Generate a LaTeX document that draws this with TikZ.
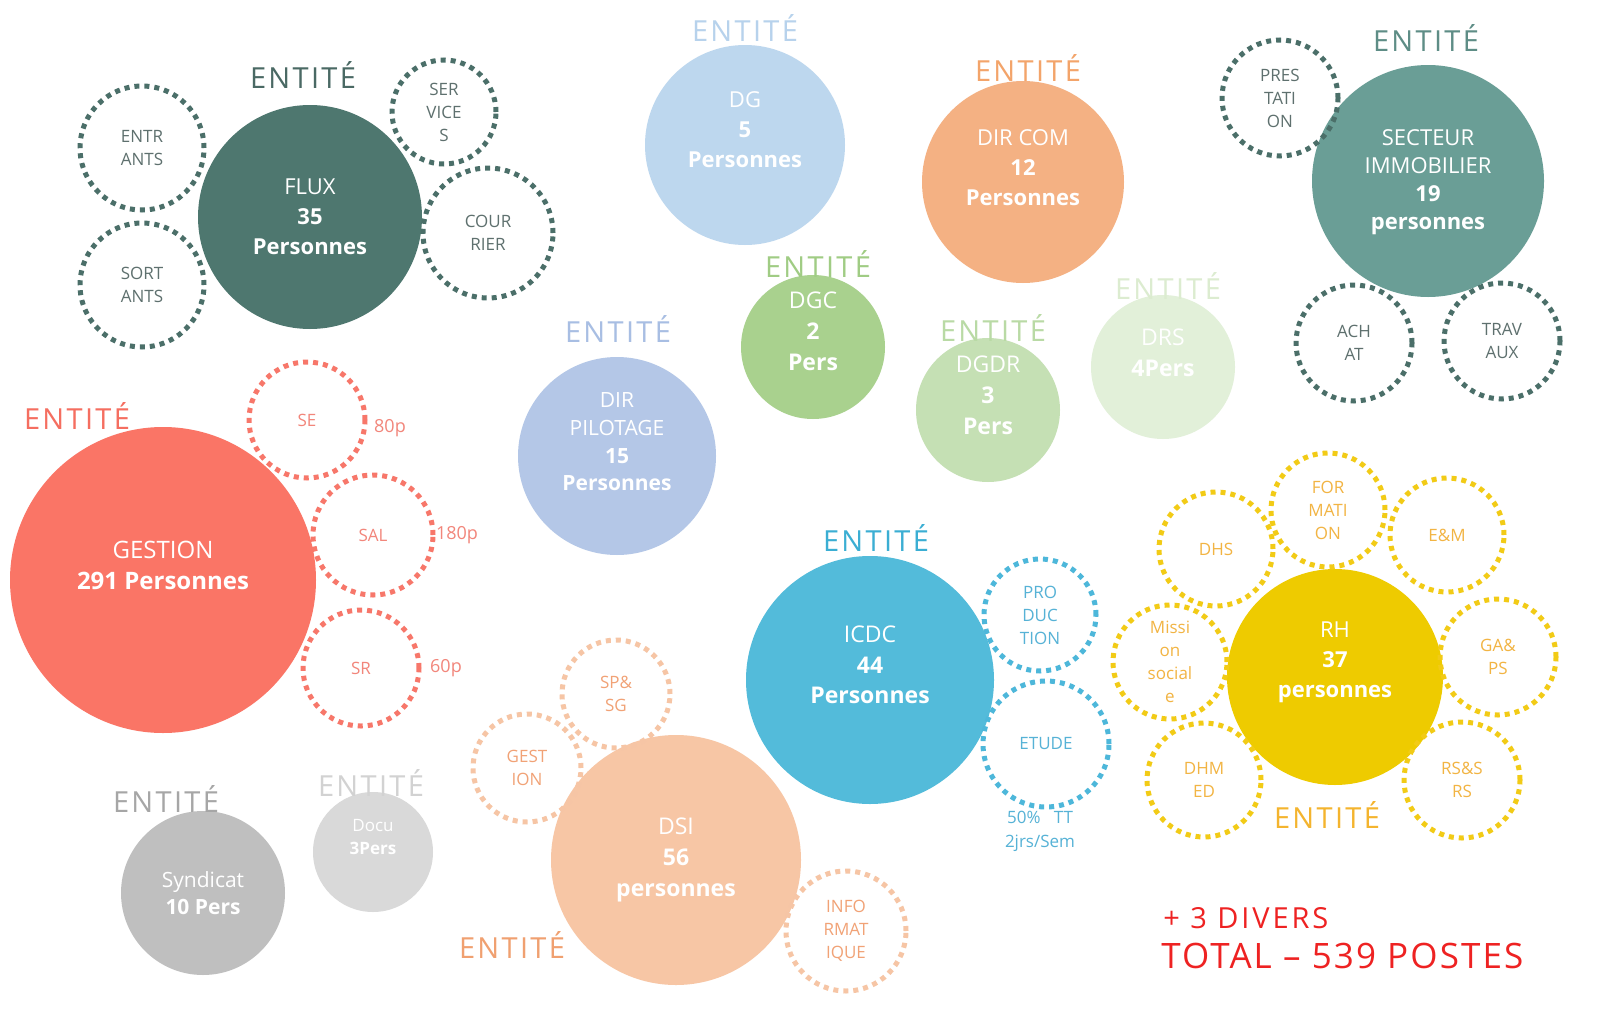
\documentclass[tikz,border=0pt]{standalone}
\usepackage{fontspec}
\setmainfont{Open Sans}
\usepackage{tikz}
\usetikzlibrary{positioning}

\definecolor{fluxc}{HTML}{4E776F}
\definecolor{fluxd}{HTML}{4B6F69}
\definecolor{fluxt}{HTML}{5E706E}
\definecolor{fluxe}{HTML}{4A6964}
\definecolor{sectc}{HTML}{6A9E96}
\definecolor{secte}{HTML}{5E8D86}
\definecolor{dgc}{HTML}{BDD7EE}
\definecolor{dge}{HTML}{B7D2EC}
\definecolor{comc}{HTML}{F4B183}
\definecolor{come}{HTML}{F3A46A}
\definecolor{dgcc}{HTML}{A9D18E}
\definecolor{dgce}{HTML}{A0CC84}
\definecolor{dgdrc}{HTML}{C5E0B4}
\definecolor{dgdre}{HTML}{B9DAA5}
\definecolor{drsc}{HTML}{E2F0D9}
\definecolor{drse}{HTML}{DCECD0}
\definecolor{pilc}{HTML}{B4C7E7}
\definecolor{pile}{HTML}{A8BEE3}
\definecolor{gesc}{HTML}{FA7566}
\definecolor{gesd}{HTML}{F7776A}
\definecolor{gest}{HTML}{F2867B}
\definecolor{gese}{HTML}{F56E60}
\definecolor{icdc}{HTML}{53BBDA}
\definecolor{icdd}{HTML}{4DB7DA}
\definecolor{icdt}{HTML}{56B2D6}
\definecolor{icde}{HTML}{3BAED3}
\definecolor{dsic}{HTML}{F7C6A5}
\definecolor{dsid}{HTML}{F6C5A5}
\definecolor{dsit}{HTML}{F1A276}
\definecolor{dsie}{HTML}{F0A070}
\definecolor{syc}{HTML}{BFBFBF}
\definecolor{sye}{HTML}{A6A6A6}
\definecolor{docc}{HTML}{D9D9D9}
\definecolor{doce}{HTML}{D2D2D2}
\definecolor{rhc}{HTML}{EECB00}
\definecolor{rhd}{HTML}{F2CB16}
\definecolor{rht}{HTML}{F2B443}
\definecolor{rhe}{HTML}{F4B42E}
\definecolor{redt}{HTML}{EE2222}

\begin{document}
\begin{tikzpicture}[x=0.5pt,y=-0.5pt,
  bubble/.style={circle,fill=#1,inner sep=0pt},
  sub/.style={circle,draw=#1,line width=2.5pt,dash pattern=on 2.5pt off 2.5pt,inner sep=0pt,align=center,font=\fontsize{8.5}{11.5}\selectfont},
  ent/.style={text=#1,inner sep=0pt,font=\fontsize{14.5}{17}\selectfont\addfontfeatures{LetterSpace=8}},
  txt/.style={text=white,align=center,font=\fontsize{11}{15}\selectfont},
  side/.style={text=#1,font=\fontsize{8.5}{12}\selectfont,align=center}]
\fill[white] (0,0) rectangle (1607,1017);
\useasboundingbox (0,0) rectangle (1607,1017);

\node[bubble=fluxc,minimum size=112pt] (flux) at (310,217) {};
\node[bubble=sectc,minimum size=116pt] (sect) at (1428,181) {};
\node[bubble=dgc,minimum size=100pt] (dg) at (745,145) {};
\node[bubble=comc,minimum size=101pt] (com) at (1023,182) {};
\node[bubble=dgcc,minimum size=72pt] (dgc) at (813,347) {};
\node[bubble=dgdrc,minimum size=72pt] (dgdr) at (988,410) {};
\node[bubble=drsc,minimum size=72pt] (drs) at (1163,367) {};
\node[bubble=pilc,minimum size=99pt] (pil) at (617,456) {};
\node[bubble=gesc,minimum size=153pt] (ges) at (163,580) {};
\node[bubble=icdc,minimum size=124pt] (icd) at (870,680) {};
\node[bubble=dsic,minimum size=125pt] (dsi) at (676,860) {};
\node[bubble=syc,minimum size=82pt] (syn) at (203,893) {};
\node[bubble=docc,minimum size=60pt] (doc) at (373,852) {};
\node[bubble=rhc,minimum size=108pt] (rh) at (1335,677) {};

\foreach \n/\p/\r/\lbl in {entr/{142,148}/62/{ENTR\\ANTS},sort/{142,285}/62/{SORT\\ANTS},
  serv/{444,112}/52/{SER\\VICE\\S},cour/{488,233}/65/{COUR\\RIER}}
  \node[sub=fluxd,text=fluxt,minimum size=\r pt] (\n) at (\p) {\lbl};
\foreach \n/\p/\r/\lbl in {pres/{1280,98}/58/{PRES\\TATI\\ON},achat/{1354,343}/58/{ACH\\AT},
  trav/{1502,341}/58/{TRAV\\AUX}}
  \node[sub=fluxd,text=fluxt,minimum size=\r pt] (\n) at (\p) {\lbl};
\foreach \n/\p/\r/\lbl in {se/{307,420}/58/SE,sal/{373,535}/60/SAL,sr/{361,668}/58/SR}
  \node[sub=gesd,text=gest,minimum size=\r pt] (\n) at (\p) {\lbl};
\foreach \n/\p/\r/\lbl in {prod/{1040,615}/56/{PRO\\DUC\\TION},etude/{1046,744}/63/ETUDE}
  \node[sub=icdd,text=icdt,minimum size=\r pt] (\n) at (\p) {\lbl};
\foreach \n/\p/\r/\lbl in {spsg/{616,694}/54/{SP\&\\SG},gest/{527,768}/54/{GEST\\ION},
  info/{846,931}/60/{INFO\\RMAT\\IQUE}}
  \node[sub=dsid,text=dsit,minimum size=\r pt] (\n) at (\p) {\lbl};
\foreach \n/\p/\r/\lbl in {form/{1328,510}/57/{FOR\\MATI\\ON},dhs/{1216,549}/57/DHS,
  em/{1447,535}/57/{E\&M},miss/{1170,662}/57/{Missi\\on\\social\\e},gaps/{1498,657}/58/{GA\&\\PS},
  dhmed/{1204,780}/57/{DHM\\ED},rssrs/{1462,780}/58/{RS\&S\\RS}}
  \node[sub=rhd,text=rht,minimum size=\r pt] (\n) at (\p) {\lbl};

\foreach \n/\p/\c in {flux/{303,75}/fluxe,sect/{1426,38}/secte,dg/{745,28}/dge,com/{1028,68}/come,
  dgc/{818,264}/dgce,dgdr/{993,328}/dgdre,drs/{1168,286}/drse,pil/{618,329}/pile,
  ges/{77,416}/gese,icd/{876,538}/icde,dsi/{512,945}/dsie,syn/{166,799}/sye,
  doc/{371,783}/doce,rh/{1327,815}/rhe}
  \node[ent=\c] (e-\n) at (\p) {ENTITÉ};

\node[txt] (flux-t) at (310,217) {FLUX\\\textbf{35}\\\textbf{Personnes}};
\node[txt,font=\fontsize{11}{14}\selectfont] (sect-t) at (1428,182) {SECTEUR\\IMMOBILIER\\\textbf{19}\\\textbf{personnes}};
\node[txt] (dg-t) at (745,130) {DG\\\textbf{5}\\\textbf{Personnes}};
\node[txt] (com-t) at (1023,168) {DIR COM\\\textbf{12}\\\textbf{Personnes}};
\node[txt,font=\fontsize{11.5}{15.5}\selectfont] (dgc-t) at (813,331) {DGC\\\textbf{2}\\\textbf{Pers}};
\node[txt,font=\fontsize{11.5}{15.5}\selectfont] (dgdr-t) at (988,395) {DGDR\\\textbf{3}\\\textbf{Pers}};
\node[txt,font=\fontsize{11.5}{15.5}\selectfont] (drs-t) at (1163,353) {DRS\\\textbf{4Pers}};
\node[txt,font=\fontsize{10.5}{13.8}\selectfont] (pil-t) at (617,442) {DIR\\PILOTAGE\\\textbf{15}\\\textbf{Personnes}};
\node[txt,font=\fontsize{12}{15.5}\selectfont] (ges-t) at (163,565) {GESTION\\\textbf{291 Personnes}};
\node[txt,font=\fontsize{11.5}{15.2}\selectfont] (icd-t) at (870,665) {ICDC\\\textbf{44}\\\textbf{Personnes}};
\node[txt,font=\fontsize{11.5}{15.5}\selectfont] (dsi-t) at (676,860) {DSI\\\textbf{56}\\\textbf{personnes}};
\node[txt,font=\fontsize{10.5}{13.5}\selectfont] (syn-t) at (203,893) {Syndicat\\\textbf{10 Pers}};
\node[txt,font=\fontsize{8.5}{11.5}\selectfont] (doc-t) at (373,837) {Docu\\\textbf{3Pers}};
\node[txt] (rh-t) at (1335,662) {RH\\\textbf{37}\\\textbf{personnes}};

\node[side=gest,font=\fontsize{9}{12}\selectfont] (se-n) at (390,428) {80p};
\node[side=gest,font=\fontsize{9}{12}\selectfont] (sal-n) at (457,535) {180p};
\node[side=gest,font=\fontsize{9}{12}\selectfont] (sr-n) at (446,668) {60p};
\node[side=icdt] (etude-n) at (1040,831) {50\%~~~TT\\2jrs/Sem};

\node[text=redt,font=\fontsize{14.5}{17}\selectfont\addfontfeatures{LetterSpace=10},anchor=west,inner sep=0pt] (divers) at (1163,918) {+ 3 DIVERS};
\node[text=redt,font=\fontsize{17.5}{20}\selectfont\addfontfeatures{LetterSpace=6},anchor=west,inner sep=0pt] (total) at (1161,956) {TOTAL – 539 POSTES};
\end{tikzpicture}
\end{document}
